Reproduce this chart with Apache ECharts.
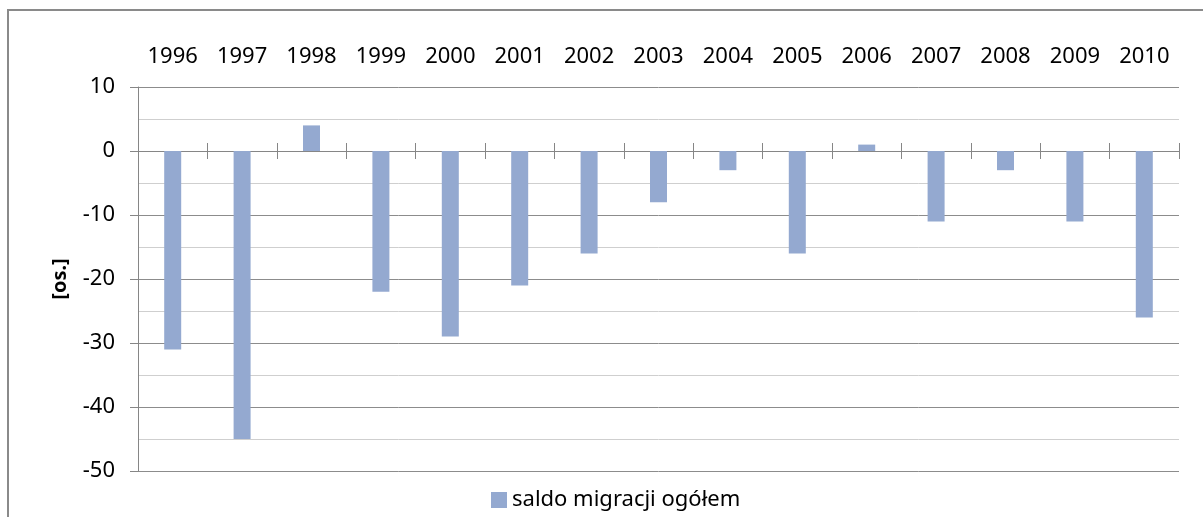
<!DOCTYPE html>
<html>
<head>
<meta charset="utf-8">
<script src="https://cdn.jsdelivr.net/npm/echarts@6/dist/echarts.min.js"></script>
<style>
  html, body { margin: 0; padding: 0; background: #fff; }
  #chart { width: 1203px; height: 517px; }
</style>
</head>
<body>
<div id="chart"></div>
<script>
// data
const years = ["1996", "1997", "1998", "1999", "2000", "2001", "2002", "2003",
  "2004", "2005", "2006", "2007", "2008", "2009", "2010"];
const saldo = [-31, -45, 4, -22, -29, -21, -16, -8, -3, -16, 1, -11, -3, -11, -26];
const seriesName = "saldo migracji ogółem";
const yName = "[os.]";

const font = "Noto Sans";
const axisGray = "#868686";

var chart = echarts.init(document.getElementById("chart"), null, { renderer: "canvas" });

var option = {
  backgroundColor: "#fff",
  animation: false,
  textStyle: { fontFamily: font },
  graphic: [
    {
      type: "rect",
      silent: true,
      shape: { x: 8, y: 10, width: 1300, height: 600 },
      style: { fill: "none", stroke: "#8a8a8a", lineWidth: 2 },
    },
  ],
  grid: { left: 138, right: 24, top: 87, bottom: 46 },
  legend: {
    left: 491,
    top: 489,
    padding: 0,
    icon: "rect",
    itemWidth: 16,
    itemHeight: 16,
    textStyle: { fontFamily: font, fontSize: 22, color: "#000" },
    data: [seriesName],
  },
  xAxis: [
    {
      // labels along the top
      type: "category",
      data: years,
      position: "top",
      axisLine: { show: false, onZero: false },
      axisTick: { show: false },
      axisLabel: { fontFamily: font, fontSize: 22, color: "#000", margin: 19, interval: 0 },
      splitLine: { show: false },
    },
    {
      // zero line, ticks pointing down
      type: "category",
      data: years,
      position: "bottom",
      axisLine: { show: true, onZero: true, onZeroAxisIndex: 0, lineStyle: { color: axisGray, width: 1 } },
      axisTick: { show: true, length: 8, interval: 0, lineStyle: { color: axisGray } },
      axisLabel: { show: false },
    },
    {
      // zero line, ticks pointing up
      type: "category",
      data: years,
      position: "bottom",
      axisLine: { show: false, onZero: true, onZeroAxisIndex: 1 },
      axisTick: { show: true, inside: true, length: 8, interval: 0, lineStyle: { color: axisGray } },
      axisLabel: { show: false },
    },
  ],
  yAxis: [
    {
      type: "value",
      min: -50,
      max: 10,
      interval: 10,
      name: yName,
      nameLocation: "middle",
      nameRotate: 90,
      nameGap: 68,
      nameTextStyle: { fontFamily: font, fontSize: 20, fontWeight: "bold", color: "#000" },
      axisLine: { show: true, lineStyle: { color: axisGray } },
      axisTick: { show: true, length: 8, lineStyle: { color: axisGray } },
      axisLabel: { fontFamily: font, fontSize: 22, color: "#000", margin: 23 },
      splitLine: { show: true, lineStyle: { color: "#8c8c8c", width: 1 } },
      minorTick: { show: false, splitNumber: 2 },
      minorSplitLine: { show: true, lineStyle: { color: "#cfcfcf", width: 1 } },
    },
    {
      // hidden twin, only so the second zero line has an axis to sit on
      type: "value",
      min: -50,
      max: 10,
      interval: 10,
      position: "right",
      show: false,
      splitLine: { show: false },
    },
  ],
  series: [
    {
      name: seriesName,
      type: "bar",
      xAxisIndex: 0,
      yAxisIndex: 0,
      data: saldo,
      barWidth: 17,
      itemStyle: { color: "#94a9d0" },
    },
  ],
};

chart.setOption(option);
</script>
</body>
</html>
